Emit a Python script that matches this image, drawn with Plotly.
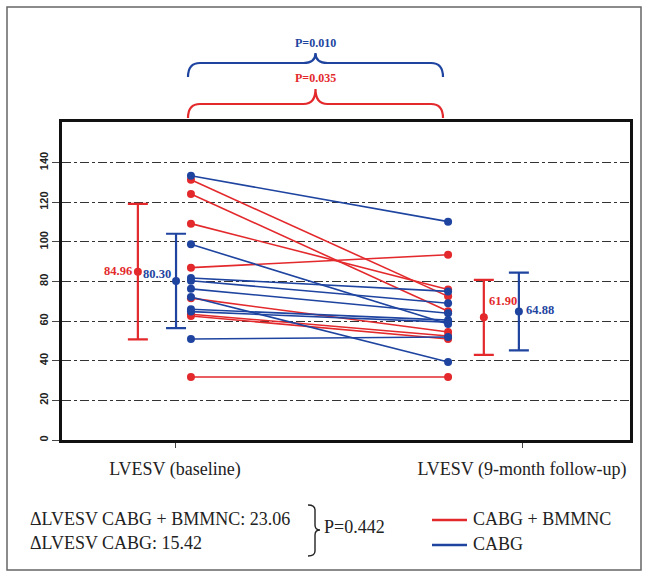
import plotly.graph_objects as go

# ---- data -------------------------------------------------------------
time_points = ["LVESV (baseline)", "LVESV (9-month follow-up)"]
y_ticks = [0, 20, 40, 60, 80, 100, 120, 140]
groups = ["CABG + BMMNC", "CABG"]

# individual LVESV values (baseline -> 9-month follow-up), paired by index
bmmnc_baseline = [131.3, 124.2, 109.2, 87.0, 71.6, 63.5, 62.6, 31.8]
bmmnc_followup = [72.5, 65.0, 76.0, 93.5, 54.5, 52.5, 51.0, 31.8]
cabg_baseline = [133.4, 98.8, 81.8, 80.4, 76.3, 72.2, 66.0, 64.8, 51.0]
cabg_followup = [110.2, 58.5, 75.0, 69.0, 64.0, 39.4, 60.5, 59.5, 52.0]

# group mean and SD at each time point
bmmnc_mean = [84.96, 61.90]
bmmnc_sd = [34.2, 18.9]
cabg_mean = [80.30, 64.88]
cabg_sd = [23.8, 19.6]

# within-group p-values (baseline vs follow-up) and between-group p for the change
p_cabg = "P=0.010"
p_bmmnc = "P=0.035"
p_delta = "P=0.442"

# ---- styling -------------------------------------------------------------
RED = "#e3292c"
BLUE = "#1e44a0"
SERIF = "Liberation Serif, Times New Roman, serif"
SANS = "Liberation Sans, Arial, sans-serif"
TXT = 18

# plot-area pixel box (used to place annotations/shapes outside the axes)
L, R, T, B = 62, 630, 122, 440
W, H = 649, 576


def px(x, y):
    return (x - L) / (R - L), (B - y) / (B - T)


# x positions (axis units): categories at 1 and 2
X_PAIR = [1.046, 1.787]
X_SD_BMMNC = [0.893, 1.890]
X_SD_CABG = [1.003, 1.991]


def paired(base, follow):
    xs, ys = [], []
    for a, b in zip(base, follow):
        xs += [X_PAIR[0], X_PAIR[1], None]
        ys += [a, b, None]
    return xs, ys


fig = go.Figure()

for base, follow, col in [(bmmnc_baseline, bmmnc_followup, RED),
                          (cabg_baseline, cabg_followup, BLUE)]:
    xs, ys = paired(base, follow)
    fig.add_trace(go.Scatter(
        x=xs, y=ys, mode="lines+markers",
        line=dict(color=col, width=1.6),
        marker=dict(color=col, size=8),
        showlegend=False, hoverinfo="skip"))

for xpos, mean, sd, col in [(X_SD_BMMNC, bmmnc_mean, bmmnc_sd, RED),
                            (X_SD_CABG, cabg_mean, cabg_sd, BLUE)]:
    fig.add_trace(go.Scatter(
        x=xpos, y=mean, mode="markers",
        marker=dict(color=col, size=8),
        error_y=dict(type="data", array=sd, visible=True,
                     color=col, thickness=2.2, width=10),
        showlegend=False, hoverinfo="skip"))

ann = []
# mean labels
lab_font = lambda c: dict(family=SERIF, size=12.5, color=c, weight="bold")
ann.append(dict(x=X_SD_BMMNC[0], y=bmmnc_mean[0], xref="x", yref="y",
                text=f"{bmmnc_mean[0]:.2f}", showarrow=False,
                xanchor="right", xshift=-4, yshift=1, font=lab_font(RED)))
ann.append(dict(x=X_SD_CABG[0], y=cabg_mean[0], xref="x", yref="y",
                text=f"{cabg_mean[0]:.2f}", showarrow=False,
                xanchor="right", xshift=-3, yshift=7, font=lab_font(BLUE)))
ann.append(dict(x=X_SD_BMMNC[1], y=bmmnc_mean[1], xref="x", yref="y",
                text=f"{bmmnc_mean[1]:.2f}", showarrow=False,
                xanchor="left", xshift=3, yshift=16, font=lab_font(RED)))
ann.append(dict(x=X_SD_CABG[1], y=cabg_mean[1], xref="x", yref="y",
                text=f"{cabg_mean[1]:.2f}", showarrow=False,
                xanchor="left", xshift=5, yshift=1, font=lab_font(BLUE)))

# p-values over the braces
for text, ypx, col in [(p_cabg, 43, BLUE), (p_bmmnc, 78, RED)]:
    x, y = px(315, ypx)
    ann.append(dict(x=x, y=y, xref="paper", yref="paper", text=text,
                    showarrow=False, xanchor="center", yanchor="middle",
                    font=dict(family=SERIF, size=12, color=col, weight="bold")))

# change summary below the chart
delta_lines = [
    f"ΔLVESV {groups[0]}: {bmmnc_mean[0] - bmmnc_mean[1]:.2f}",
    f"ΔLVESV {groups[1]}: {cabg_mean[0] - cabg_mean[1]:.2f}",
]
for text, ypx in zip(delta_lines, [519, 543]):
    x, y = px(28, ypx)
    ann.append(dict(x=x, y=y, xref="paper", yref="paper", text=text,
                    showarrow=False, xanchor="left", yanchor="middle",
                    font=dict(family=SERIF, size=TXT, color="#222")))
x, y = px(322, 527)
ann.append(dict(x=x, y=y, xref="paper", yref="paper", text=p_delta,
                showarrow=False, xanchor="left", yanchor="middle",
                font=dict(family=SERIF, size=TXT, color="#222")))

# manual legend
for name, col, ypx in zip(groups, [RED, BLUE], [520, 545]):
    x, y = px(471, ypx - 1)
    ann.append(dict(x=x, y=y, xref="paper", yref="paper", text=name,
                    showarrow=False, xanchor="left", yanchor="middle",
                    font=dict(family=SERIF, size=TXT, color="#222")))

shapes = []


def path_from(points_cmds):
    out = []
    for cmd, pts in points_cmds:
        coords = " ".join(f"{px(a, b)[0]:.5f},{px(a, b)[1]:.5f}" for a, b in pts)
        out.append(f"{cmd} {coords}")
    return " ".join(out)


def h_brace(x0, x1, y_end, y_top, y_apex, r=12):
    xm = (x0 + x1) / 2
    return path_from([
        ("M", [(x0, y_end)]),
        ("Q", [(x0, y_top), (x0 + r, y_top)]),
        ("L", [(xm - r, y_top)]),
        ("Q", [(xm, y_top), (xm, y_apex)]),
        ("Q", [(xm, y_top), (xm + r, y_top)]),
        ("L", [(x1 - r, y_top)]),
        ("Q", [(x1, y_top), (x1, y_end)]),
    ])


shapes.append(dict(type="path", xref="paper", yref="paper",
                   path=h_brace(188, 443, 77, 63, 53),
                   line=dict(color=BLUE, width=2.2)))
shapes.append(dict(type="path", xref="paper", yref="paper",
                   path=h_brace(188, 443, 118, 104, 89),
                   line=dict(color=RED, width=2.2)))

# vertical brace joining the two change lines
vb = path_from([
    ("M", [(308, 505)]),
    ("Q", [(315, 505), (315, 510)]),
    ("L", [(315, 525)]),
    ("Q", [(315, 530), (320, 530)]),
    ("Q", [(315, 530), (315, 535)]),
    ("L", [(315, 551)]),
    ("Q", [(315, 556), (308, 556)]),
])
shapes.append(dict(type="path", xref="paper", yref="paper", path=vb,
                   line=dict(color="#222", width=1.4)))

# legend keys
for col, ypx in zip([RED, BLUE], [520, 545]):
    x0, y0 = px(432, ypx)
    x1, _ = px(467, ypx)
    shapes.append(dict(type="line", xref="paper", yref="paper",
                       x0=x0, x1=x1, y0=y0, y1=y0,
                       line=dict(color=col, width=2.5)))

# outer frame
fx0, fy0 = px(7, 7)
fx1, fy1 = px(641, 570)
shapes.append(dict(type="rect", xref="paper", yref="paper",
                   x0=fx0, x1=fx1, y0=fy1, y1=fy0,
                   line=dict(color="#666", width=1.5), layer="below"))

x_lo = 1 - (175 - L) / 347
x_hi = 1 + (R - 175) / 347

fig.update_layout(
    width=W, height=H,
    margin=dict(l=L, r=W - R, t=T, b=H - B),
    paper_bgcolor="white", plot_bgcolor="white",
    annotations=ann, shapes=shapes, showlegend=False,
    xaxis=dict(range=[x_lo, x_hi], tickvals=[1, 2], ticktext=time_points,
               showgrid=False, zeroline=False,
               showline=True, linewidth=3, linecolor="#111", mirror=True,
               ticks="outside", ticklen=5, tickcolor="#444",
               ticklabelstandoff=5,
               tickfont=dict(family=SERIF, size=TXT, color="#222")),
    yaxis=dict(range=[0, 160.5], tickvals=y_ticks,
               showgrid=True, gridcolor="#333", gridwidth=1, griddash="dashdot",
               zeroline=False,
               showline=True, linewidth=3, linecolor="#111", mirror=True,
               ticks="outside", ticklen=7, tickcolor="#444",
               tickangle=-90,
               tickfont=dict(family=SANS, size=11, color="#222", weight="bold")),
)

fig.write_html("out.html")
